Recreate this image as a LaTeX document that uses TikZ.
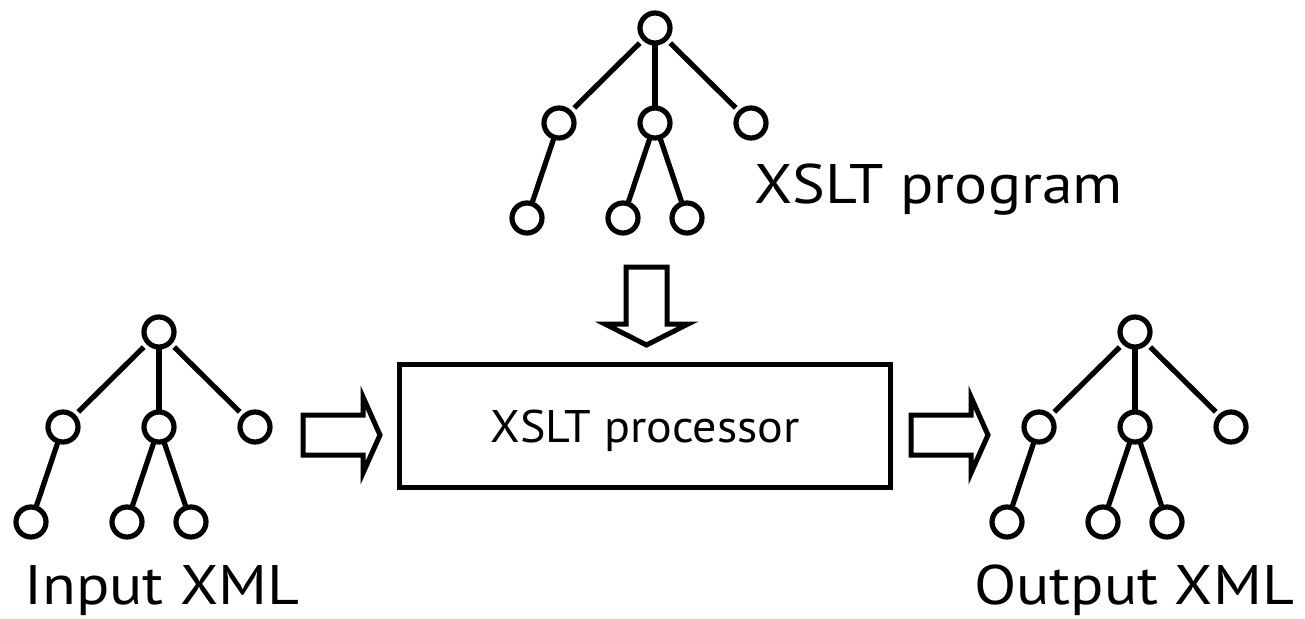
\documentclass[tikz,border=0pt]{standalone}
\usepackage{fontspec}
\setmainfont{PT Sans}
\newfontfamily\biglabelfont[FakeStretch=1.11]{PT Sans}
\newfontfamily\proclabelfont[FakeStretch=1.05]{PT Sans}
\tikzset{
  tn/.style={circle, draw, line width=5.2pt, minimum size=30pt, inner sep=0pt, outer sep=0pt},
  tedge/.style={line width=5.2pt},
  gapedge/.style={tedge, shorten <=6.5pt, shorten >=6.5pt},
  blockarrow/.style={draw, line width=5pt, line join=miter, fill=white},
  procbox/.style={draw, line width=5.5pt, minimum width=491pt, minimum height=123pt,
    inner sep=0pt, text height=32pt, text depth=0pt, font=\proclabelfont\fontsize{45.7}{50}\selectfont},
  biglabel/.style={anchor=base west, inner sep=0pt, font=\biglabelfont\fontsize{55.7}{60}\selectfont}
}
\newcommand\xmltree[3]{%
  \begin{scope}[shift={(#2,#3)}]
    \node[tn] (#1r) at (0,0) {};
    \node[tn] (#1a) at (-96,95) {};
    \node[tn] (#1b) at (0,95) {};
    \node[tn] (#1c) at (96,95) {};
    \node[tn] (#1d) at (-128,190) {};
    \node[tn] (#1e) at (-32,190) {};
    \node[tn] (#1f) at (32,190) {};
    \draw[gapedge] (#1r) -- (#1a);
    \draw[tedge] (#1r) -- (#1b);
    \draw[gapedge] (#1r) -- (#1c);
    \draw[tedge] (#1a) -- (#1d);
    \draw[tedge] (#1b) -- (#1e);
    \draw[tedge] (#1b) -- (#1f);
  \end{scope}}
\begin{document}
\begin{tikzpicture}[x=1pt, y=-1pt]
  \useasboundingbox (0,0) rectangle (1305,618);
  % trees
  \xmltree{p}{655}{28}
  \xmltree{i}{159}{332}
  \xmltree{o}{1135}{332}
  % labels
  \node[biglabel] (lprog) at (754,203) {XSLT program};
  \node[biglabel] (lin) at (24,604) {Input XML};
  \node[biglabel] (lout) at (974,604) {Output XML};
  % processor box
  \node[procbox] (proc) at (645,426) {XSLT processor};
  % block arrows
  \draw[blockarrow] (303,415) -- (363,415) -- (363,397) -- (380,435) -- (363,473)
    -- (363,455) -- (303,455) -- cycle;
  \draw[blockarrow] (911,415) -- (971,415) -- (971,397) -- (988,435) -- (971,473)
    -- (971,455) -- (911,455) -- cycle;
  \draw[blockarrow] (626,267) -- (667,267) -- (667,324) -- (688,324) -- (646.5,345)
    -- (605,324) -- (626,324) -- cycle;
\end{tikzpicture}
\end{document}
